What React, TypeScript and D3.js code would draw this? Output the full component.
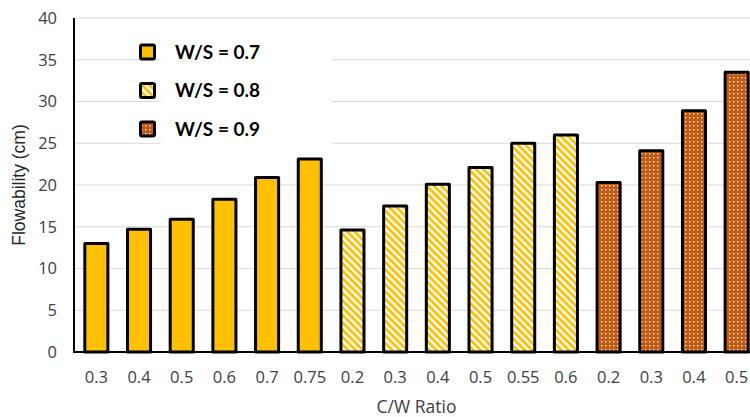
import React from "react";
import * as d3 from "d3";

// Flowability of mixes grouped by water/solid ratio
const ratioLabels = ["0.3", "0.4", "0.5", "0.6", "0.7", "0.75", "0.2", "0.3", "0.4", "0.5", "0.55", "0.6", "0.2", "0.3", "0.4", "0.5"];
const flowValues = [13.0, 14.7, 15.9, 18.3, 20.9, 23.1, 14.6, 17.5, 20.1, 22.1, 25.0, 26.0, 20.3, 24.1, 28.9, 33.5];
const seriesIndex = [0, 0, 0, 0, 0, 0, 1, 1, 1, 1, 1, 1, 2, 2, 2, 2];
const seriesNames = ["W/S = 0.7", "W/S = 0.8", "W/S = 0.9"];
const yTicks = [0, 5, 10, 15, 20, 25, 30, 35, 40];

const W = 750;
const H = 417;
const plot = { left: 75, right: 758, top: 18, bottom: 352 };

const YELLOW = "#FFC000";
const ORANGE = "#C55A11";
const fills = ["url(#solidYellow)", "url(#stripeYellow)", "url(#dotOrange)"];

export default function App() {
  const x = d3
    .scaleBand<number>()
    .domain(d3.range(flowValues.length))
    .range([plot.left, plot.right])
    .paddingInner(0.46)
    .paddingOuter(0.23);
  const y = d3.scaleLinear().domain([0, 40]).range([plot.bottom, plot.top]);

  const tickFont = "'Open Sans', sans-serif";

  return (
    <svg width={W} height={H} style={{ position: "absolute", left: 0, top: 0, background: "#fff" }}>
      <defs>
        <pattern id="solidYellow" width={4} height={4} patternUnits="userSpaceOnUse">
          <rect width={4} height={4} fill={YELLOW} />
        </pattern>
        <pattern id="stripeYellow" width={5.2} height={5.2} patternUnits="userSpaceOnUse" patternTransform="rotate(45)">
          <rect width={5.2} height={5.2} fill="#fff" />
          <rect width={5.2} height={2.8} fill={YELLOW} />
        </pattern>
        <pattern id="dotOrange" width={4} height={4} patternUnits="userSpaceOnUse">
          <rect width={4} height={4} fill={ORANGE} />
          <rect x={1} y={1} width={1.4} height={1.4} fill="#fff" opacity={0.9} />
        </pattern>
      </defs>

      {/* horizontal gridlines */}
      {yTicks.map((t) => (
        <line key={t} x1={plot.left} x2={W} y1={y(t)} y2={y(t)} stroke="#d9d9d9" strokeWidth={1} />
      ))}

      {/* bars */}
      {flowValues.map((v, i) => (
        <rect
          key={i}
          x={x(i)!}
          y={y(v)}
          width={x.bandwidth()}
          height={y(0) - y(v)}
          fill={fills[seriesIndex[i]]}
          stroke="#000"
          strokeWidth={3}
          strokeLinejoin="round"
        />
      ))}

      {/* axes */}
      <line x1={74} x2={74} y1={plot.top} y2={plot.bottom + 1} stroke="#000" strokeWidth={2} />
      <line x1={73} x2={W} y1={plot.bottom} y2={plot.bottom} stroke="#000" strokeWidth={2} />

      {/* y tick labels */}
      {yTicks.map((t) => (
        <text key={t} x={57} y={y(t)} dy="0.36em" textAnchor="end" fontFamily={tickFont} fontSize={16.5} fill="#404040">
          {t}
        </text>
      ))}

      {/* x tick labels */}
      {ratioLabels.map((l, i) => (
        <text
          key={i}
          x={x(i)! + x.bandwidth() / 2}
          y={383}
          textAnchor="middle"
          fontFamily={tickFont}
          fontSize={16.5}
          fill="#404040"
        >
          {l}
        </text>
      ))}

      {/* axis titles */}
      <text x={(plot.left + plot.right) / 2} y={413} textAnchor="middle" fontFamily={tickFont} fontSize={17.5} fill="#404040">
        C/W Ratio
      </text>
      <text
        transform={`translate(25, ${(plot.top + plot.bottom) / 2}) rotate(-90)`}
        textAnchor="middle"
        fontFamily="'Liberation Sans', Arial, sans-serif"
        fontSize={17.5}
        fill="#262626"
      >
        Flowability (cm)
      </text>

      {/* legend */}
      <rect x={161} y={34} width={171} height={116} fill="#fff" />
      {seriesNames.map((name, k) => {
        const cy = 52 + k * 38.5;
        return (
          <g key={name}>
            <rect x={140.5} y={cy - 7} width={14} height={14} rx={1.5} fill={fills[k]} stroke="#000" strokeWidth={3} />
            <text x={175} y={cy + 6.5} fontFamily="Lato, sans-serif" fontWeight="bold" fontSize={19} fill="#000">
              {name}
            </text>
          </g>
        );
      })}
    </svg>
  );
}
